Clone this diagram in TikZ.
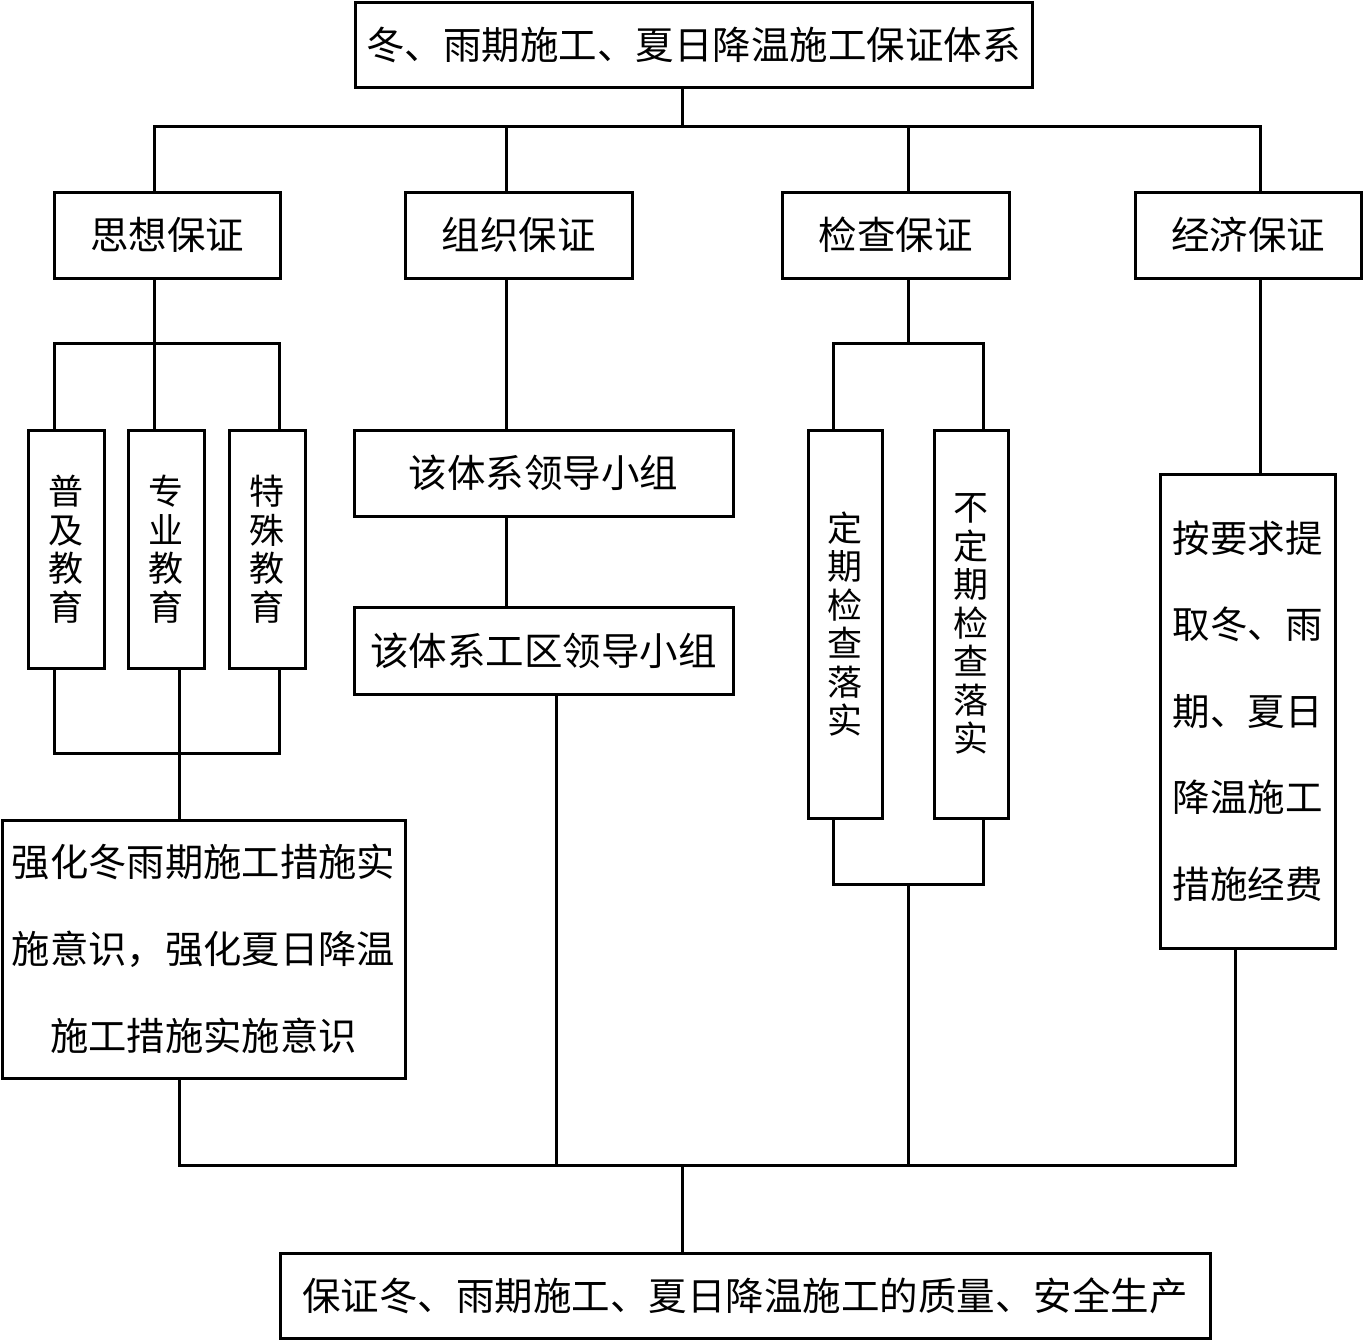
\documentclass[tikz,border=0pt]{standalone}
\usepackage{fontspec}
\setmainfont{Noto Sans CJK SC}
\tikzset{
  box/.style={draw, line width=3pt, inner sep=0pt, align=center, font=\fontsize{38.5}{44}\selectfont},
  vbox/.style={box, font=\fontsize{35}{38.5}\selectfont},
  conn/.style={line width=3pt, line join=miter, line cap=rect},
}
\begin{document}
\begin{tikzpicture}[x=1pt,y=-1pt]
\useasboundingbox (0,0) rectangle (1364,1341);
\fill[white] (0,0) rectangle (1364,1341);
% nodes
\node[box, minimum width=677, minimum height=85] (top) at (693.5,44.5) {冬、雨期施工、夏日降温施工保证体系};
\node[box, minimum width=226, minimum height=86] (sx) at (167,235) {思想保证};
\node[box, minimum width=227, minimum height=86] (zz) at (518.5,235) {组织保证};
\node[box, minimum width=227, minimum height=86] (jc) at (895.5,235) {检查保证};
\node[box, minimum width=226, minimum height=86] (jj) at (1248,235) {经济保证};
\node[vbox, minimum width=76, minimum height=238] (e1) at (66,549) {普\\及\\教\\育};
\node[vbox, minimum width=76, minimum height=238] (e2) at (166,549) {专\\业\\教\\育};
\node[vbox, minimum width=76, minimum height=238] (e3) at (267,549) {特\\殊\\教\\育};
\node[box, minimum width=403, minimum height=258, font=\fontsize{38.3}{87}\selectfont] (big) at (203.5,949) {强化冬雨期施工措施实\\施意识，强化夏日降温\\施工措施实施意识};
\node[box, minimum width=379, minimum height=86] (zz1) at (543.5,473) {该体系领导小组};
\node[box, minimum width=379, minimum height=87] (zz2) at (543.5,650.5) {该体系工区领导小组};
\node[vbox, minimum width=74, minimum height=388] (jc1) at (845,624) {定\\期\\检\\查\\落\\实};
\node[vbox, minimum width=74, minimum height=388] (jc2) at (971,624) {不\\定\\期\\检\\查\\落\\实};
\node[box, minimum width=175, minimum height=474, font=\fontsize{37.5}{86.6}\selectfont] (jj1) at (1247.5,711) {按要求提\\取冬、雨\\期、夏日\\降温施工\\措施经费};
\node[box, minimum width=930, minimum height=85] (bot) at (745,1295.5) {保证冬、雨期施工、夏日降温施工的质量、安全生产};
% connectors
\draw[conn] (682,0 |- top.south) -- (682,126);
\draw[conn] (154,0 |- sx.north) -- (154,126) -- (1260,126) -- (1260,0 |- jj.north);
\draw[conn] (506,126) -- (506,0 |- zz.north);
\draw[conn] (908,126) -- (908,0 |- jc.north);
% thought
\draw[conn] (154,0 |- sx.south) -- (154,0 |- e2.north);
\draw[conn] (54,0 |- e1.north) -- (54,343) -- (279,343) -- (279,0 |- e3.north);
\draw[conn] (54,0 |- e1.south) -- (54,753) -- (279,753) -- (279,0 |- e3.south);
\draw[conn] (179,0 |- e2.south) -- (179,0 |- big.north);
% organisation
\draw[conn] (506,0 |- zz.south) -- (506,0 |- zz1.north);
\draw[conn] (506,0 |- zz1.south) -- (506,0 |- zz2.north);
% inspection
\draw[conn] (908,0 |- jc.south) -- (908,343);
\draw[conn] (833,0 |- jc1.north) -- (833,343) -- (983,343) -- (983,0 |- jc2.north);
\draw[conn] (833,0 |- jc1.south) -- (833,884) -- (983,884) -- (983,0 |- jc2.south);
% economy
\draw[conn] (1260,0 |- jj.south) -- (1260,0 |- jj1.north);
% bottom
\draw[conn] (179,0 |- big.south) -- (179,1165) -- (1235,1165) -- (1235,0 |- jj1.south);
\draw[conn] (556,0 |- zz2.south) -- (556,1165);
\draw[conn] (908,884) -- (908,1165);
\draw[conn] (682,1165) -- (682,0 |- bot.north);
\end{tikzpicture}
\end{document}
